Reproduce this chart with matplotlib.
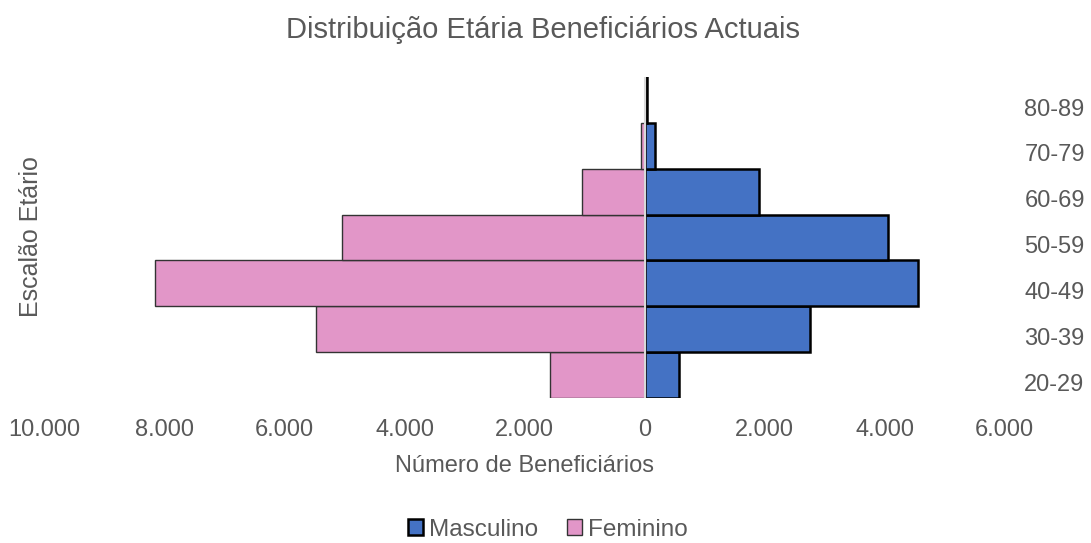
import numpy as np
import matplotlib.pyplot as plt
import matplotlib.transforms as mtransforms
from matplotlib.ticker import FuncFormatter

plt.rcParams['font.family'] = ['Liberation Sans', 'DejaVu Sans']

faixas = ['20-29', '30-39', '40-49', '50-59', '60-69', '70-79', '80-89']
masculino = [570, 2750, 4550, 4050, 1900, 170, 30]
feminino = [1580, 5480, 8170, 5050, 1040, 55, 0]

cinza = '#595959'
azul = '#4472C4'
rosa = '#E296C8'

fig = plt.figure(figsize=(10.91, 5.43), dpi=100)
ax = fig.add_axes([0.041, 0.267, 0.88, 0.591])

y = np.arange(len(faixas))
ax.barh(y, masculino, height=1.0, color=azul, edgecolor='black', linewidth=1.8, label='Masculino')
ax.barh(y, [-v for v in feminino], height=1.0, color=rosa, edgecolor='#333333', linewidth=1.0, label='Feminino')
ax.axvline(0, color='#D9D9D9', linewidth=1.5, zorder=5)

ax.set_xlim(-10000, 6000)
ax.set_ylim(-0.5, len(faixas) - 0.5)
ax.set_xticks(np.arange(-10000, 6001, 2000))
ax.xaxis.set_major_formatter(FuncFormatter(lambda v, p: f'{abs(int(v)):,}'.replace(',', '.')))
ax.set_yticks(y)
ax.set_yticklabels(faixas)
ax.yaxis.tick_right()
ax.tick_params(axis='both', length=0, labelsize=17, colors=cinza)
ax.tick_params(axis='y', pad=14)
ax.tick_params(axis='x', pad=15)
for s in ax.spines.values():
    s.set_visible(False)

# rotulos do eixo y ligeiramente abaixo do centro da barra, como no Excel
desloc = mtransforms.ScaledTranslation(0, -7 / 100, fig.dpi_scale_trans)
for lbl in ax.get_yticklabels():
    lbl.set_transform(lbl.get_transform() + desloc)

ax.set_xlabel('Número de Beneficiários', fontsize=17, color=cinza, labelpad=10)
fig.text(0.028, 0.5635, 'Escalão Etário', rotation=90, fontsize=18, color=cinza, ha='center', va='center')
fig.text(0.498, 0.945, 'Distribuição Etária Beneficiários Actuais', fontsize=21, color=cinza,
         ha='center', va='center')

leg = fig.legend(loc='lower center', bbox_to_anchor=(0.502, -0.036), ncol=2, frameon=False,
                 fontsize=17.5, handlelength=0.6, handleheight=0.6, handletextpad=0.25, columnspacing=1.2)
for t in leg.get_texts():
    t.set_color(cinza)

fig.savefig('out.png', dpi=100)
